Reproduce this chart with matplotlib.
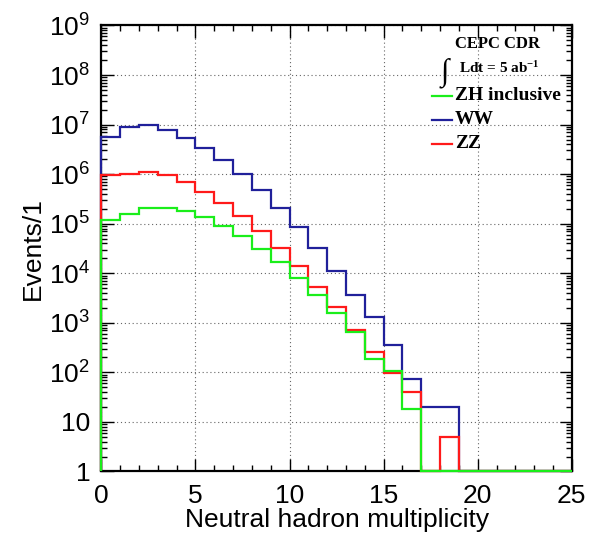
import numpy as np
import matplotlib
matplotlib.use("Agg")
import matplotlib.pyplot as plt
from matplotlib.ticker import FixedLocator, FuncFormatter, LogLocator, NullFormatter

plt.rcParams['font.family'] = ['Liberation Sans', 'DejaVu Sans']

# bin edges 0..25, one bin per multiplicity value
edges = np.arange(0, 26)

zh = [1.19e5, 1.54e5, 2.1e5, 2.1e5, 1.8e5, 1.34e5, 9.1e4, 5.6e4, 3.1e4, 1.65e4,
      7.9e3, 3.7e3, 1.55e3, 650, 183, 105, 18, 0, 0, 0, 0, 0, 0, 0, 0]
ww = [5.6e6, 8.8e6, 9.7e6, 7.7e6, 5.3e6, 3.3e6, 1.9e6, 1.0e6, 4.8e5, 2.1e5,
      8.4e4, 3.2e4, 1.1e4, 3.6e3, 1.32e3, 350, 73, 20, 20, 0, 0, 0, 0, 0, 0]
zz = [9.4e5, 1.0e6, 1.1e6, 9.4e5, 6.8e5, 4.4e5, 2.6e5, 1.43e5, 7.1e4, 3.3e4,
      1.4e4, 5.4e3, 2.07e3, 720, 260, 95, 40, 0, 5, 0, 0, 0, 0, 0, 0]

labels = ["ZH inclusive", "WW", "ZZ"]
colors = ["#1aee1a", "#20209a", "#ff1a1a"]
series = [zh, ww, zz]

fig = plt.figure(figsize=(6.0, 5.43), dpi=100)
ax = fig.add_axes([0.169, 0.1317, 0.784, 0.8214])

# empty bins sit on the axis floor like in ROOT
for idx in [1, 2, 0]:
    vals = np.asarray(series[idx], dtype=float)
    vals = np.where(vals > 0, vals, 1.0)
    ax.stairs(vals, edges, baseline=1.0, color=colors[idx], lw=1.6,
              clip_on=False, zorder=3)

ax.set_yscale('log')
ax.set_xlim(0, 25)
ax.set_ylim(1, 1e9)

ax.xaxis.set_major_locator(FixedLocator([0, 5, 10, 15, 20, 25]))
ax.xaxis.set_minor_locator(FixedLocator(np.arange(0, 26)))
ax.yaxis.set_major_locator(LogLocator(base=10, numticks=20))
ax.yaxis.set_minor_locator(LogLocator(base=10, subs=np.arange(2, 10), numticks=20))
ax.yaxis.set_minor_formatter(NullFormatter())


def yfmt(v, pos):
    e = int(round(np.log10(v)))
    if e == 0:
        return '1'
    if e == 1:
        return '10'
    return r'$\mathregular{10^{%d}}$' % e


ax.yaxis.set_major_formatter(FuncFormatter(yfmt))

ax.tick_params(which='both', direction='in', top=True, right=True, width=1.0)
ax.tick_params(which='major', length=9, labelsize=19)
ax.tick_params(axis='y', which='major', pad=8)
ax.tick_params(axis='x', which='major', pad=9)
ax.tick_params(which='minor', length=4.5)
for s in ax.spines.values():
    s.set_linewidth(1.6)

ax.grid(True, which='major', color='#666666', linestyle=(0, (1, 2.5)), lw=0.8)

ax.set_xlabel("Neutral hadron multiplicity", fontsize=19)
ax.set_ylabel("Events/1", fontsize=19)
ax.xaxis.set_label_coords(0.5, -0.082)
ax.yaxis.set_label_coords(-0.12, 0.5)

# legend block
serif = ['Liberation Serif', 'DejaVu Serif']
ax.text(0.751, 0.958, "CEPC CDR", transform=ax.transAxes, fontsize=12,
        fontweight='bold', family=serif, va='center', ha='left')
ax.text(0.722, 0.893, "\u222b", transform=ax.transAxes, fontsize=22,
        family=serif, va='center', ha='left')
ax.text(0.760, 0.905, r"Ldt = 5 ab$\mathregular{^{-1}}$", transform=ax.transAxes,
        fontsize=11, fontweight='bold', family=serif, va='center', ha='left')
ys = [0.842, 0.789, 0.735]
for lab, col, y in zip(labels, colors, ys):
    ax.plot([0.702, 0.745], [y, y], color=col, lw=1.6, transform=ax.transAxes,
            clip_on=False)
    ax.text(0.751, y, lab, transform=ax.transAxes, fontsize=14, fontweight='bold',
            family=serif, va='center', ha='left')

fig.savefig("out.png", dpi=100)
